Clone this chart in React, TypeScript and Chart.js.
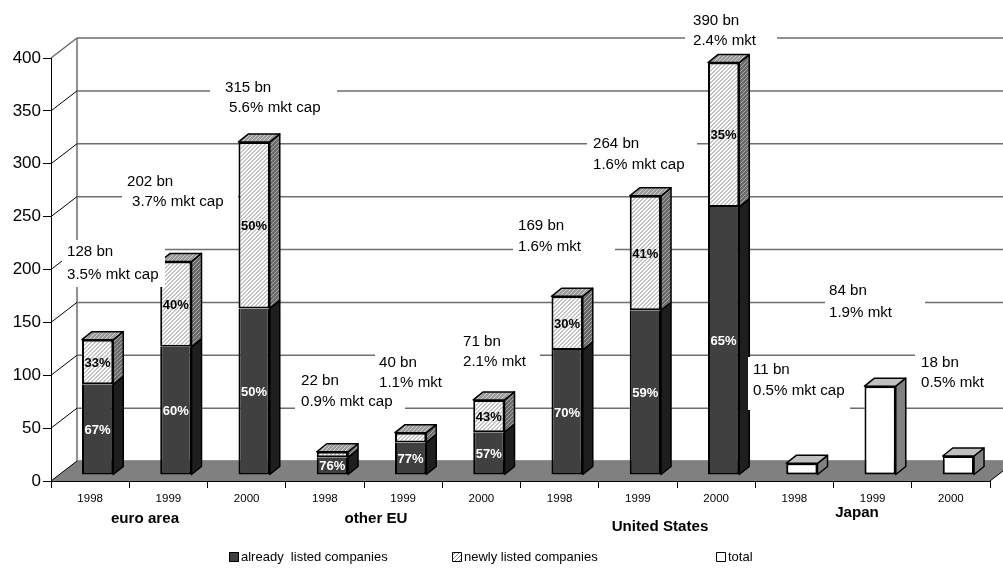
import { useEffect, useRef } from 'react';
import { Chart, registerables } from 'chart.js';

Chart.register(...registerables);

// ---- data ----
const years = ['1998', '1999', '2000', '1998', '1999', '2000', '1998', '1999', '2000', '1998', '1999', '2000'];
const regions = ['euro area', 'other EU', 'United States', 'Japan'];
// total capital raised, EUR bn
const totals = [128, 202, 315, 22, 40, 71, 169, 264, 390, 11, 84, 18];
// split by type of issuer, % of total (no split for Japan)
const alreadyPct = [67, 60, 50, 76, 77, 57, 70, 59, 65, null, null, null];
const newPct = [33, 40, 50, 24, 23, 43, 30, 41, 35, null, null, null];
// share of market capitalisation
const capShares = [
  '3.5% mkt cap', '3.7% mkt cap', '5.6% mkt cap',
  '0.9% mkt cap', '1.1% mkt', '2.1% mkt',
  '1.6% mkt', '1.6% mkt cap', '2.4% mkt',
  '0.5% mkt cap', '1.9% mkt', '0.5% mkt',
];
const seriesNames = ['already  listed companies', 'newly listed companies', 'total'];

const alreadyValues = totals.map((t, i) => (alreadyPct[i] == null ? null : (t * (alreadyPct[i] as number)) / 100));
const newValues = totals.map((t, i) => (newPct[i] == null ? null : (t * (newPct[i] as number)) / 100));
const totalValues = totals.map((t, i) => (alreadyPct[i] == null ? t : null));
const pctSeries = [alreadyPct, newPct, null];

// ---- layout ----
const WX = 26, WY = -20; // depth of the floor / side wall
const OX = 7.5, OY = -6; // columns sit this far into the floor
const DX = 10, DY = -8; // column depth

// callout boxes: [left, top, right, bottom] and the start of each text line
const calloutLayout = [
  { box: [62, 240, 165, 287], l1: [67, 252], l2: [67, 275] },
  { box: [122, 170, 238, 214], l1: [127, 182], l2: [132, 202] },
  { box: [210, 76, 337, 120], l1: [225, 88], l2: [229, 108] },
  { box: [295, 369, 405, 414], l1: [301, 381], l2: [301, 402] },
  { box: [375, 351, 460, 395], l1: [379, 363], l2: [379, 383] },
  { box: [458, 330, 540, 374], l1: [463, 342], l2: [463, 362] },
  { box: [513, 214, 615, 259], l1: [518, 226], l2: [518, 247] },
  { box: [587, 132, 697, 177], l1: [593, 144], l2: [593, 165] },
  { box: [685, 9, 777, 52], l1: [693, 21], l2: [693, 41] },
  { box: [748, 357, 850, 410], l1: [753, 370], l2: [753, 391] },
  { box: [825, 279, 925, 325], l1: [829, 291], l2: [829, 313] },
  { box: [915, 351, 1003, 395], l1: [921, 363], l2: [921, 383] },
];
const regionLabelPos = [[145, 519], [376, 519], [660, 527], [857, 513]];
const legendPos = [[229, 557], [452, 557], [716, 557]];

const FONT = '"Liberation Sans", Arial, sans-serif';

function hatch(bg: string, fg: string) {
  const c = document.createElement('canvas');
  c.width = 4;
  c.height = 4;
  const g = c.getContext('2d') as CanvasRenderingContext2D;
  g.fillStyle = bg;
  g.fillRect(0, 0, 4, 4);
  g.fillStyle = fg;
  for (let i = 0; i < 4; i++) g.fillRect(i, 3 - i, 1, 1);
  return g.createPattern(c, 'repeat') as CanvasPattern;
}

function poly(ctx: CanvasRenderingContext2D, pts: number[][], fill: any, stroke = '#000', lw = 1.5) {
  ctx.beginPath();
  ctx.moveTo(pts[0][0], pts[0][1]);
  for (let i = 1; i < pts.length; i++) ctx.lineTo(pts[i][0], pts[i][1]);
  ctx.closePath();
  ctx.fillStyle = fill;
  ctx.fill();
  ctx.lineWidth = lw;
  ctx.strokeStyle = stroke;
  ctx.lineJoin = 'round';
  ctx.stroke();
}

function text(ctx: CanvasRenderingContext2D, s: string, x: number, y: number, font: string, color: string, align: CanvasTextAlign, sx = 1) {
  ctx.save();
  ctx.translate(x, y);
  ctx.scale(sx, 1);
  ctx.font = font;
  ctx.fillStyle = color;
  ctx.textAlign = align;
  ctx.textBaseline = 'middle';
  ctx.fillText(s, 0, 0);
  ctx.restore();
}

export default function App() {
  const ref = useRef<HTMLCanvasElement>(null);

  useEffect(() => {
    const canvas = ref.current as HTMLCanvasElement;
    const hatchFront = hatch('#ffffff', '#8a8a8a');
    const hatchSide = hatch('#6a6a6a', '#a6a6a6');
    const hatchTop = hatch('#9a9a9a', '#d0d0d0');
    const frontFill = ['#404040', hatchFront, '#ffffff'];
    const sideFill = ['#1e1e1e', hatchSide, '#808080'];
    const topFill = ['#555555', hatchTop, '#c0c0c0'];

    const depth = {
      id: 'depth3d',
      beforeDraw(chart: any) {
        const { ctx, chartArea: a, scales } = chart;
        const y = scales.y;
        ctx.save();
        ctx.fillStyle = '#fff';
        ctx.fillRect(0, 0, chart.width, chart.height);
        const vals: number[] = y.ticks.map((t: any) => t.value);
        // back wall gridlines
        ctx.strokeStyle = '#6e6e6e';
        ctx.lineWidth = 1.5;
        for (const v of vals) {
          const py = y.getPixelForValue(v) + WY;
          ctx.beginPath();
          ctx.moveTo(a.left + WX, py);
          ctx.lineTo(chart.width, py);
          ctx.stroke();
        }
        // back wall left edge
        ctx.beginPath();
        ctx.moveTo(a.left + WX, a.top + WY);
        ctx.lineTo(a.left + WX, a.bottom + WY);
        ctx.stroke();
        // floor
        ctx.beginPath();
        ctx.moveTo(a.left, a.bottom);
        ctx.lineTo(a.right, a.bottom);
        ctx.lineTo(a.right + WX, a.bottom + WY);
        ctx.lineTo(a.left + WX, a.bottom + WY);
        ctx.closePath();
        ctx.fillStyle = '#808080';
        ctx.fill();
        ctx.strokeStyle = '#000';
        ctx.lineWidth = 1;
        ctx.beginPath();
        ctx.moveTo(a.right, a.bottom);
        ctx.lineTo(a.right + WX, a.bottom + WY);
        ctx.stroke();
        // side wall diagonals
        for (const v of vals) {
          const py = y.getPixelForValue(v);
          ctx.strokeStyle = v === vals[vals.length - 1] ? '#6e6e6e' : '#000';
          ctx.lineWidth = v === vals[vals.length - 1] ? 1.5 : 1;
          ctx.beginPath();
          ctx.moveTo(a.left, py);
          ctx.lineTo(a.left + WX, py + WY);
          ctx.stroke();
        }
        ctx.restore();
      },
      beforeDatasetsDraw(chart: any) {
        chart.ctx.save();
        chart.ctx.translate(OX, OY);
      },
      afterDatasetsDraw(chart: any) {
        const ctx: CanvasRenderingContext2D = chart.ctx;
        ctx.restore();
        const ds = chart.data.datasets;
        const metas = ds.map((_: any, d: number) => chart.getDatasetMeta(d));
        const labels: any[] = [];
        for (let i = 0; i < years.length; i++) {
          const segs: any[] = [];
          metas.forEach((m: any, d: number) => {
            const v = ds[d].data[i];
            if (v != null && v > 0) segs.push({ d, el: m.data[i] });
          });
          segs.forEach((s, k) => {
            const p = s.el.getProps(['x', 'y', 'base', 'width'], true);
            const L = p.x - p.width / 2 + OX;
            const R = p.x + p.width / 2 + OX;
            const T = Math.min(p.y, p.base) + OY;
            const B = Math.max(p.y, p.base) + OY;
            poly(ctx, [[R, T], [R + DX, T + DY], [R + DX, B + DY], [R, B]], sideFill[s.d]);
            if (k === segs.length - 1) poly(ctx, [[L, T], [L + DX, T + DY], [R + DX, T + DY], [R, T]], topFill[s.d]);
            const pct = pctSeries[s.d];
            if (pct && pct[i] != null && B - T >= 12) {
              labels.push({ s: `${pct[i]}%`, x: (L + R) / 2, y: (T + B) / 2 + 1, c: s.d === 0 ? '#fff' : '#000' });
            }
          });
        }
        for (const l of labels) text(ctx, l.s, l.x, l.y, `bold 13px ${FONT}`, l.c, 'center');

        // callouts with total and share of market capitalisation
        ctx.fillStyle = '#fff';
        for (const c of calloutLayout) ctx.fillRect(c.box[0], c.box[1], c.box[2] - c.box[0], c.box[3] - c.box[1]);
        calloutLayout.forEach((c, i) => {
          text(ctx, `${totals[i]} bn`, c.l1[0], c.l1[1], `14px ${FONT}`, '#000', 'left', 1.08);
          text(ctx, capShares[i], c.l2[0], c.l2[1], `14px ${FONT}`, '#000', 'left', 1.08);
        });

        // region names under the year labels
        regions.forEach((r, i) => text(ctx, r, regionLabelPos[i][0], regionLabelPos[i][1], `bold 14px ${FONT}`, '#000', 'center', 1.08));

        // legend
        seriesNames.forEach((n, i) => {
          const [lx, ly] = legendPos[i];
          ctx.fillStyle = frontFill[i] as any;
          ctx.fillRect(lx, ly - 5, 10, 10);
          ctx.strokeStyle = '#000';
          ctx.lineWidth = 1;
          ctx.strokeRect(lx + 0.5, ly - 4.5, 9, 9);
          text(ctx, n, lx + 12, ly + 0.5, `13px ${FONT}`, '#000', 'left', 1.0);
        });
      },
    };

    const common = {
      borderColor: '#000',
      borderSkipped: false,
      barPercentage: 0.4,
      categoryPercentage: 1,
      stack: 'issues',
    };

    const chart = new Chart(canvas, {
      type: 'bar',
      data: {
        labels: years,
        datasets: [
          { ...common, label: seriesNames[0], data: alreadyValues, backgroundColor: frontFill[0], borderWidth: { top: 0, left: 2, right: 2, bottom: 2 } },
          { ...common, label: seriesNames[1], data: newValues, backgroundColor: frontFill[1], borderWidth: 2 },
          { ...common, label: seriesNames[2], data: totalValues, backgroundColor: frontFill[2], borderWidth: 2 },
        ] as any,
      },
      options: {
        animation: false,
        responsive: false,
        layout: { padding: { top: 58, right: 13, left: 0, bottom: 0 } },
        plugins: { legend: { display: false }, tooltip: { enabled: false } },
        scales: {
          x: {
            stacked: true,
            grid: { drawOnChartArea: false, tickLength: 7, color: '#000', offset: true },
            border: { color: '#000', width: 1 },
            ticks: { color: '#000', font: { family: FONT, size: 11.5 }, padding: 4, maxRotation: 0, autoSkip: false },
            afterFit: (s: any) => { s.height = 87; },
          },
          y: {
            stacked: true,
            min: 0,
            max: 400,
            grid: { drawOnChartArea: false, tickLength: 8, color: '#000' },
            border: { color: '#000', width: 1 },
            ticks: { stepSize: 50, color: '#000', font: { family: FONT, size: 17 }, padding: 2 },
            afterFit: (s: any) => { s.width = 51; },
          },
        },
      } as any,
      plugins: [depth],
    });
    return () => chart.destroy();
  }, []);

  return (
    <div style={{ position: 'absolute', left: 0, top: 0, width: 1003, height: 568, background: '#fff' }}>
      <canvas ref={ref} width={1003} height={568} style={{ display: 'block' }} />
    </div>
  );
}
